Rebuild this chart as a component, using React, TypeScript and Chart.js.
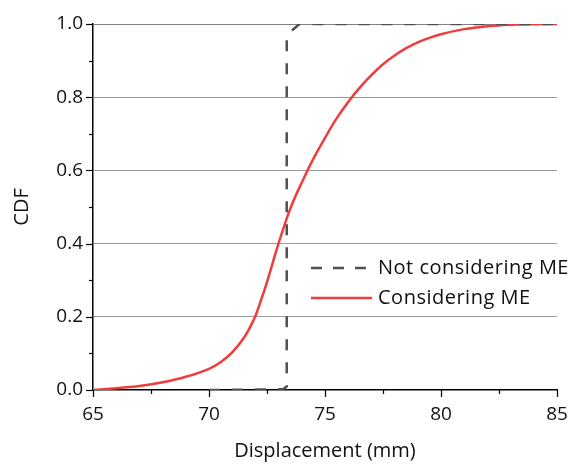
import React, { useEffect, useRef } from "react";
import { Chart, registerables } from "chart.js";

Chart.register(...registerables);

const xConsidering = [65, 66, 67, 68, 69, 70, 70.5, 71, 71.5, 71.75, 72, 72.25, 72.5, 73, 73.5, 74, 74.5, 75, 75.5, 76, 76.5, 77, 77.5, 78, 78.5, 79, 79.5, 80, 81, 82, 83, 84, 85];
const yConsidering = [0.0, 0.005, 0.011, 0.021, 0.036, 0.058, 0.076, 0.103, 0.142, 0.169, 0.202, 0.247, 0.295, 0.401, 0.495, 0.567, 0.632, 0.689, 0.742, 0.787, 0.826, 0.86, 0.89, 0.914, 0.934, 0.95, 0.962, 0.972, 0.986, 0.994, 0.998, 0.9995, 1.0];

const xNotConsidering = [70, 73.2, 73.35, 73.35, 73.9, 85];
const yNotConsidering = [0.0, 0.002, 0.01, 0.97, 1.0, 1.0];

const xTickLabels = [65, 70, 75, 80, 85];
const yTickLabels = ["0.0", "0.2", "0.4", "0.6", "0.8", "1.0"];

const seriesNames = ["Not considering ME", "Considering ME"];

const FONT = "'Open Sans', sans-serif";
const RED = "#f03c3c";
const DARK = "#505050";

const tickPlugin = {
  id: "customTicks",
  afterDraw(chart: any) {
    const ctx = chart.ctx;
    const xs = chart.scales.x;
    const ys = chart.scales.y;
    const area = chart.chartArea;
    ctx.save();
    ctx.strokeStyle = "#000";
    ctx.lineWidth = 1.2;
    for (let i = 0; i <= 8; i++) {
      const v = 65 + i * 2.5;
      const px = Math.round(xs.getPixelForValue(v)) + 0.5;
      const len = i % 2 === 0 ? 7 : 4;
      ctx.beginPath();
      ctx.moveTo(px, area.bottom);
      ctx.lineTo(px, area.bottom + len);
      ctx.stroke();
    }
    for (let i = 0; i <= 10; i++) {
      const v = i / 10;
      const py = Math.round(ys.getPixelForValue(v)) + 0.5;
      const len = i % 2 === 0 ? 7 : 4;
      ctx.beginPath();
      ctx.moveTo(area.left, py);
      ctx.lineTo(area.left - len, py);
      ctx.stroke();
    }
    // legend
    const lx = 311;
    ctx.font = `20px ${FONT}`;
    ctx.textBaseline = "middle";
    ctx.fillStyle = "#111";
    (ctx as any).letterSpacing = "0.5px";
    ctx.lineWidth = 2.5;
    ctx.strokeStyle = DARK;
    ctx.setLineDash([11, 11]);
    ctx.beginPath();
    ctx.moveTo(lx, 268);
    ctx.lineTo(lx + 60, 268);
    ctx.stroke();
    ctx.setLineDash([]);
    ctx.fillText(seriesNames[0], 378, 268);
    ctx.strokeStyle = RED;
    ctx.beginPath();
    ctx.moveTo(lx, 298);
    ctx.lineTo(lx + 61, 298);
    ctx.stroke();
    ctx.fillText(seriesNames[1], 378, 298);
    ctx.restore();
  },
};

export default function App() {
  const ref = useRef<HTMLCanvasElement>(null);
  useEffect(() => {
    if (!ref.current) return;
    const chart = new Chart(ref.current, {
      type: "scatter",
      data: {
        datasets: [
          {
            label: seriesNames[0],
            data: xNotConsidering.map((x, i) => ({ x, y: yNotConsidering[i] })),
            showLine: true,
            borderColor: DARK,
            borderWidth: 2.5,
            borderDash: [11, 12],
            pointRadius: 0,
            tension: 0,
          },
          {
            label: seriesNames[1],
            data: xConsidering.map((x, i) => ({ x, y: yConsidering[i] })),
            showLine: true,
            borderColor: RED,
            borderWidth: 2.5,
            pointRadius: 0,
            cubicInterpolationMode: "monotone",
          },
        ],
      },
      options: {
        animation: false,
        responsive: false,
        layout: { padding: { top: 24, right: 14, left: 0, bottom: 0 } },
        plugins: { legend: { display: false }, tooltip: { enabled: false } },
        scales: {
          x: {
            type: "linear",
            min: 65,
            max: 85,
            afterFit: (s: any) => {
              s.height = 80;
              s.paddingRight = 0;
              s.paddingLeft = 0;
            },
            ticks: {
              stepSize: 2.5,
              padding: 13,
              color: "#111",
              font: { family: FONT, size: 19 },
              maxRotation: 0,
              autoSkip: false,
              callback: (v: any) => (xTickLabels.includes(Number(v)) ? String(v) : ""),
            },
            grid: { drawOnChartArea: false, drawTicks: false },
            border: { color: "#000", width: 1.5 },
            title: {
              display: true,
              text: "Displacement (mm)",
              color: "#111",
              font: { family: FONT, size: 20 },
              padding: { top: 4, bottom: 7 },
            },
          },
          y: {
            min: 0,
            max: 1,
            afterFit: (s: any) => {
              s.width = 93;
              s.paddingTop = 0;
              s.paddingBottom = 0;
            },
            ticks: {
              stepSize: 0.1,
              padding: 10,
              color: "#111",
              font: { family: FONT, size: 19 },
              autoSkip: false,
              callback: (v: any) => {
                const i = Math.round(Number(v) * 10);
                return i % 2 === 0 ? yTickLabels[i / 2] : "";
              },
            },
            grid: {
              drawTicks: false,
              color: (c: any) => {
                const i = Math.round(c.tick.value * 10);
                if (i === 0 || i % 2 !== 0) return "rgba(0,0,0,0)";
                return i === 10 ? "#808080" : "#999";
              },
              lineWidth: 1,
            },
            border: { color: "#000", width: 1.5 },
            title: {
              display: true,
              text: "CDF",
              color: "#111",
              font: { family: FONT, size: 20 },
              padding: { top: 10, bottom: 4 },
            },
          },
        },
      },
      plugins: [tickPlugin],
    } as any);
    return () => chart.destroy();
  }, []);
  return (
    <div style={{ position: "fixed", left: 0, top: 0, width: 571, height: 470, background: "#fff" }}>
      <canvas ref={ref} width={571} height={470} />
    </div>
  );
}
